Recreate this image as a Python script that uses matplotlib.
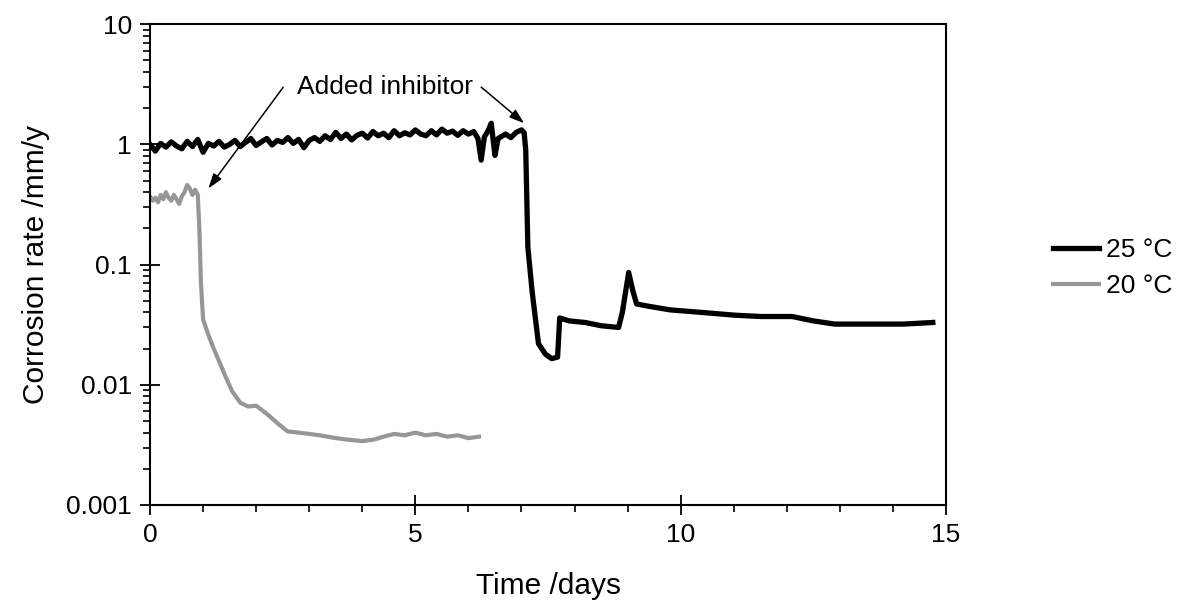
import matplotlib
matplotlib.use("Agg")
import matplotlib.pyplot as plt
from matplotlib.ticker import FixedLocator, FixedFormatter, LogLocator, NullFormatter, MultipleLocator

plt.rcParams['font.family'] = ['Liberation Sans', 'DejaVu Sans']

# 25 °C run (inhibitor added at ~7 days)
t25 = [0.0, 0.1, 0.2, 0.3, 0.4, 0.5, 0.6, 0.7, 0.8, 0.9,
       1.0, 1.1, 1.2, 1.3, 1.4, 1.5, 1.6, 1.7, 1.8, 1.9,
       2.0, 2.1, 2.2, 2.3, 2.4, 2.5, 2.6, 2.7, 2.8, 2.9,
       3.0, 3.1, 3.2, 3.3, 3.4, 3.5, 3.6, 3.7, 3.8, 3.9,
       4.0, 4.1, 4.2, 4.3, 4.4, 4.5, 4.6, 4.7, 4.8, 4.9,
       5.0, 5.1, 5.2, 5.3, 5.4, 5.5, 5.6, 5.7, 5.8, 5.9,
       6.0, 6.1, 6.18, 6.24, 6.3, 6.37, 6.43, 6.47, 6.5, 6.56,
       6.7, 6.8, 6.9, 7.0, 7.05, 7.08, 7.12, 7.2, 7.32, 7.45,
       7.57, 7.68, 7.72, 7.9, 8.2, 8.5, 8.83, 8.9, 9.02, 9.1,
       9.17, 9.4, 9.8, 10.4, 11.0, 11.5, 12.1, 12.5, 12.7, 12.9,
       13.5, 14.2, 14.75]
r25 = [1.00, 0.88, 1.02, 0.95, 1.05, 0.97, 0.92, 1.06, 0.96, 1.10,
       0.86, 1.02, 0.97, 1.06, 0.95, 1.00, 1.08, 0.96, 1.04, 1.12,
       0.98, 1.05, 1.12, 0.99, 1.08, 1.04, 1.14, 1.02, 1.10, 0.94,
       1.08, 1.14, 1.06, 1.18, 1.10, 1.26, 1.12, 1.22, 1.09, 1.19,
       1.24, 1.13, 1.28, 1.18, 1.24, 1.14, 1.30, 1.18, 1.25, 1.20,
       1.32, 1.22, 1.18, 1.30, 1.20, 1.34, 1.24, 1.29, 1.19, 1.30,
       1.22, 1.28, 1.12, 0.74, 1.15, 1.30, 1.50, 1.05, 0.81, 1.12,
       1.22, 1.14, 1.26, 1.32, 1.25, 0.90, 0.14, 0.06, 0.022, 0.018,
       0.0165, 0.017, 0.036, 0.034, 0.033, 0.031, 0.030, 0.040, 0.086, 0.060,
       0.047, 0.045, 0.042, 0.040, 0.038, 0.037, 0.037, 0.034, 0.033, 0.032,
       0.032, 0.032, 0.033]

# 20 °C run (inhibitor added at ~0.9 days)
t20 = [0.0, 0.05, 0.1, 0.15, 0.2, 0.25, 0.3, 0.35, 0.4, 0.45,
       0.5, 0.55, 0.6, 0.65, 0.7, 0.75, 0.8, 0.85, 0.9, 0.93,
       0.96, 1.0, 1.1, 1.2, 1.32, 1.45, 1.55, 1.7, 1.85, 2.0,
       2.1, 2.25, 2.4, 2.59, 2.8, 3.0, 3.2, 3.5, 3.72, 4.0,
       4.22, 4.4, 4.6, 4.8, 5.0, 5.2, 5.4, 5.6, 5.8, 6.0, 6.2]
r20 = [0.37, 0.34, 0.36, 0.33, 0.38, 0.35, 0.40, 0.36, 0.34, 0.38,
       0.35, 0.32, 0.37, 0.40, 0.46, 0.43, 0.38, 0.42, 0.38, 0.20,
       0.07, 0.035, 0.026, 0.020, 0.015, 0.011, 0.0088, 0.0071, 0.0066, 0.0067,
       0.0062, 0.0055, 0.0048, 0.0041, 0.0040, 0.0039, 0.0038, 0.0036, 0.0035, 0.0034,
       0.0035, 0.0037, 0.0039, 0.0038, 0.0040, 0.0038, 0.0039, 0.0037, 0.0038, 0.0036, 0.0037]

yticks = [0.001, 0.01, 0.1, 1, 10]
ylabels = ['0.001', '0.01', '0.1', '1', '10']

fig = plt.figure(figsize=(11.83, 6.06), dpi=100)
ax = fig.add_axes([0.1268, 0.1667, 0.6729, 0.7933])

ax.plot(t25, r25, color='black', lw=3.8, solid_joinstyle='round', label='25 °C')
ax.plot(t20, r20, color='#969696', lw=3, label='20 °C')

ax.set_yscale('log')
ax.set_xlim(0, 15)
ax.set_ylim(0.001, 10)
ax.yaxis.set_major_locator(FixedLocator(yticks))
ax.yaxis.set_major_formatter(FixedFormatter(ylabels))
ax.yaxis.set_minor_locator(LogLocator(base=10, subs=range(2, 10)))
ax.yaxis.set_minor_formatter(NullFormatter())
ax.xaxis.set_major_locator(MultipleLocator(5))
ax.xaxis.set_minor_locator(MultipleLocator(1))

ax.tick_params(which='major', direction='inout', length=14, width=1.3, labelsize=19, pad=6)
ax.tick_params(which='minor', direction='out', length=5, width=1.2)
for s in ax.spines.values():
    s.set_linewidth(1.5)

ax.set_xlabel('Time /days', fontsize=21.5, labelpad=18)
ax.set_ylabel('Corrosion rate /mm/y', fontsize=21.5, labelpad=12)

arrow = dict(arrowstyle='-|>,head_length=0.9,head_width=0.3', color='black', lw=1.1,
             shrinkA=0, shrinkB=0)
ax.text(4.43, 3.0, 'Added inhibitor', fontsize=19, ha='center', va='center')
ax.annotate('', xy=(1.10, 0.43), xytext=(2.51, 2.99), arrowprops=arrow)
ax.annotate('', xy=(7.05, 1.50), xytext=(6.24, 3.0), arrowprops=arrow)

fig.legend(loc='center left', bbox_to_anchor=(0.879, 0.558), frameon=False, fontsize=19,
           handlelength=1.75, handletextpad=0.25, labelspacing=0.45, borderpad=0)

fig.savefig('out.png', dpi=100)
